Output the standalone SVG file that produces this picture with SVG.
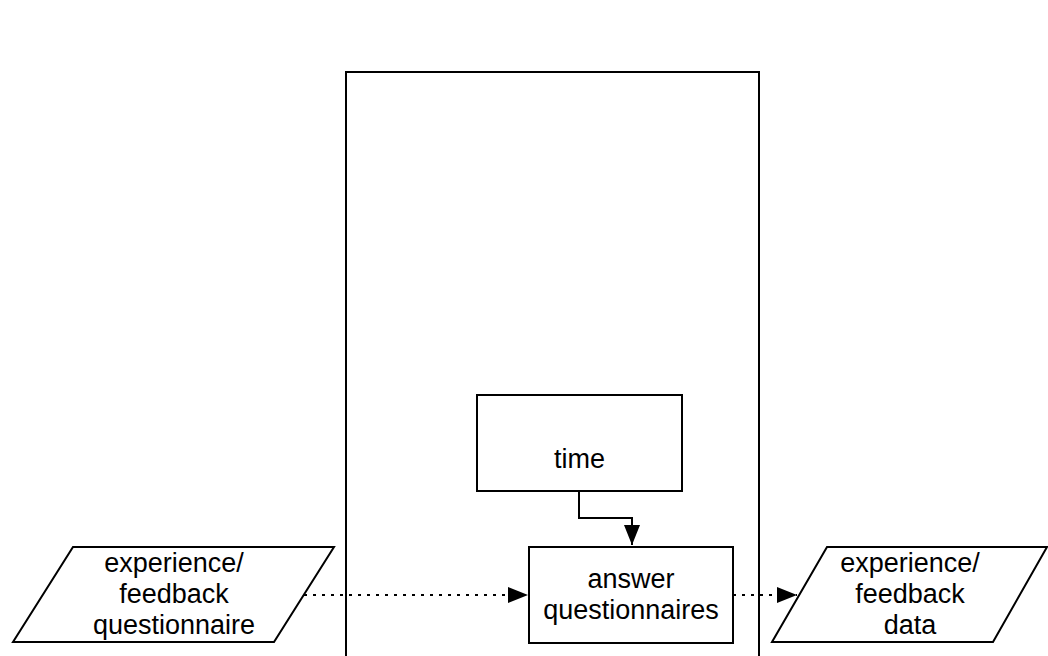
<svg xmlns="http://www.w3.org/2000/svg" width="1048" height="656" viewBox="0 0 1048 656">
<style>
.s{fill:#fff;stroke:#000;stroke-width:2}
.t{font-family:"Liberation Sans",Arial,sans-serif;font-size:27px;fill:#000;text-anchor:middle}
.c{fill:none;stroke:#000;stroke-width:2}
.d{stroke-dasharray:3 6}
</style>
<defs>
<marker id="ah" viewBox="0 0 20 16" refX="20" refY="8" markerWidth="20" markerHeight="16" markerUnits="userSpaceOnUse" orient="auto">
<path d="M0,0 L20,8 L0,16 Z" fill="#000"/>
</marker>
</defs>
<rect width="1048" height="656" fill="#fff"/>
<g id="container"><rect class="s" x="346" y="72" width="413" height="600"/></g>
<g id="time"><rect class="s" x="477" y="395" width="205" height="96"/><text class="t" x="579.5" y="468">time</text></g>
<g id="answer"><rect class="s" x="529" y="547" width="204" height="96"/><text class="t" x="631" y="588">answer</text><text class="t" x="631" y="619">questionnaires</text></g>
<g id="input"><polygon class="s" points="73,547 334,547 274,642 13,642"/><text class="t" x="174" y="572">experience/</text><text class="t" x="174" y="603">feedback</text><text class="t" x="174" y="634">questionnaire</text></g>
<g id="output"><polygon class="s" points="827,547 1047,547 993,642 772,642"/><text class="t" x="910" y="572">experience/</text><text class="t" x="910" y="603">feedback</text><text class="t" x="910" y="634">data</text></g>
<g id="connectors">
<path class="c" d="M579,491 V518 H632 V545" marker-end="url(#ah)"/>
<path class="c d" d="M304,595 H528" marker-end="url(#ah)"/>
<path class="c d" d="M733,595 H797" marker-end="url(#ah)"/>
</g>
</svg>
